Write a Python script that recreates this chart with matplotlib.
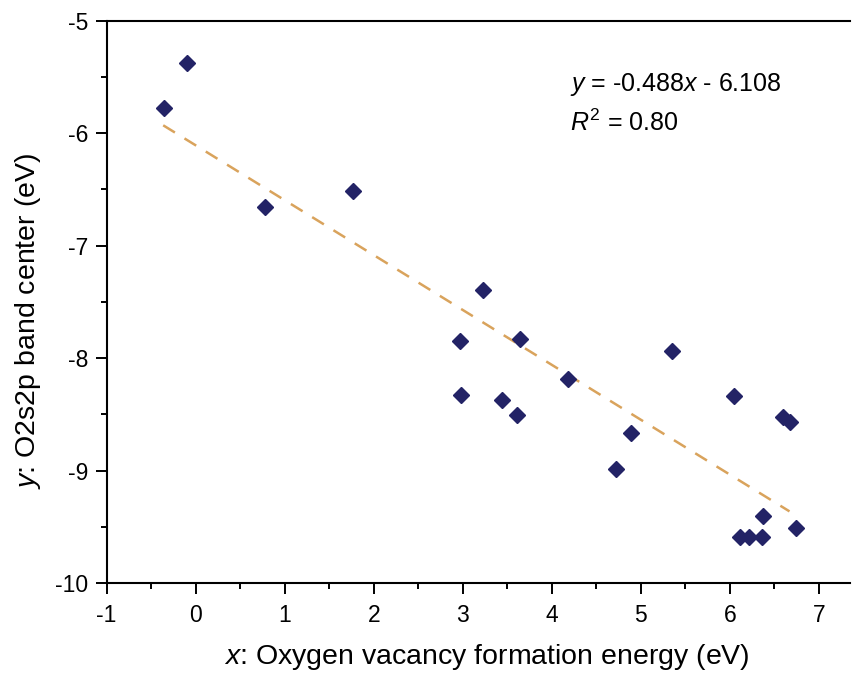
import matplotlib
matplotlib.use("Agg")
import matplotlib.pyplot as plt
import numpy as np
from matplotlib.ticker import MultipleLocator, FuncFormatter

plt.rcParams['font.family'] = ['Liberation Sans', 'DejaVu Sans']
plt.rcParams['mathtext.fontset'] = 'custom'
plt.rcParams['mathtext.rm'] = 'Liberation Sans'
plt.rcParams['mathtext.it'] = 'Liberation Sans:italic'
plt.rcParams['axes.unicode_minus'] = False

# Data
x_vals = [-0.36, -0.10, 0.78, 1.77, 3.23, 2.97, 2.98, 3.64, 3.44, 3.61, 4.18,
          4.89, 4.72, 5.35, 6.05, 6.60, 6.67, 6.37, 6.74, 6.11, 6.22, 6.36]
y_vals = [-5.78, -5.38, -6.655, -6.51, -7.39, -7.85, -8.33, -7.83, -8.37, -8.51, -8.19,
          -8.67, -8.99, -7.94, -8.335, -8.525, -8.565, -9.40, -9.51, -9.59, -9.59, -9.59]
slope = -0.488
intercept = -6.108
fit_range = [-0.365, 6.67]
eq_text = r'$\it{y}$ = -0.488$\it{x}$ - 6.108'
r2_text = r'$\it{R}^{2}$ = 0.80'
x_label = r'$\it{x}$: Oxygen vacancy formation energy (eV)'
y_label = r'$\it{y}$: O2s2p band center (eV)'

fig = plt.figure(figsize=(8.52, 6.73), dpi=100)
ax = fig.add_axes([0.1252, 0.1337, 0.8725, 0.8355])

xf = np.linspace(fit_range[0], fit_range[1], 50)
ax.plot(xf, slope * xf + intercept, linestyle=(0, (5.5, 4.5)), color='#d9a35c', lw=1.8, zorder=2)
ax.plot(x_vals, y_vals, linestyle='none', marker='D', ms=8.3, color='#232366', zorder=3)

ax.set_xlim(-1, 7.35)
ax.set_ylim(-10, -5)
ax.xaxis.set_major_locator(MultipleLocator(1))
ax.xaxis.set_minor_locator(MultipleLocator(0.5))
ax.yaxis.set_major_locator(MultipleLocator(1))
ax.yaxis.set_minor_locator(MultipleLocator(0.5))
ax.xaxis.set_major_formatter(FuncFormatter(lambda v, p: f'{v:.0f}'))
ax.yaxis.set_major_formatter(FuncFormatter(lambda v, p: f'{v:.0f}'))

ax.spines['right'].set_visible(False)
for s in ['left', 'bottom', 'top']:
    ax.spines[s].set_linewidth(1.5)
ax.tick_params(which='both', direction='out', top=False, right=False, width=1.4, labelsize=16.5)
ax.tick_params(axis='x', which='major', length=8, pad=7)
ax.tick_params(axis='y', which='major', length=8, pad=5)
ax.tick_params(which='minor', length=4.5)

ax.set_xlabel(x_label, fontsize=20.5, labelpad=11)
ax.set_ylabel(y_label, fontsize=20.5, labelpad=9)
ax.xaxis.label.set_x(0.512)
ax.yaxis.label.set_y(0.466)

ax.text(4.2, -5.622, eq_text, fontsize=18, va='baseline', ha='left')
ax.text(4.2, -5.978, r2_text, fontsize=18, va='baseline', ha='left')

fig.savefig('out.png', dpi=100)
